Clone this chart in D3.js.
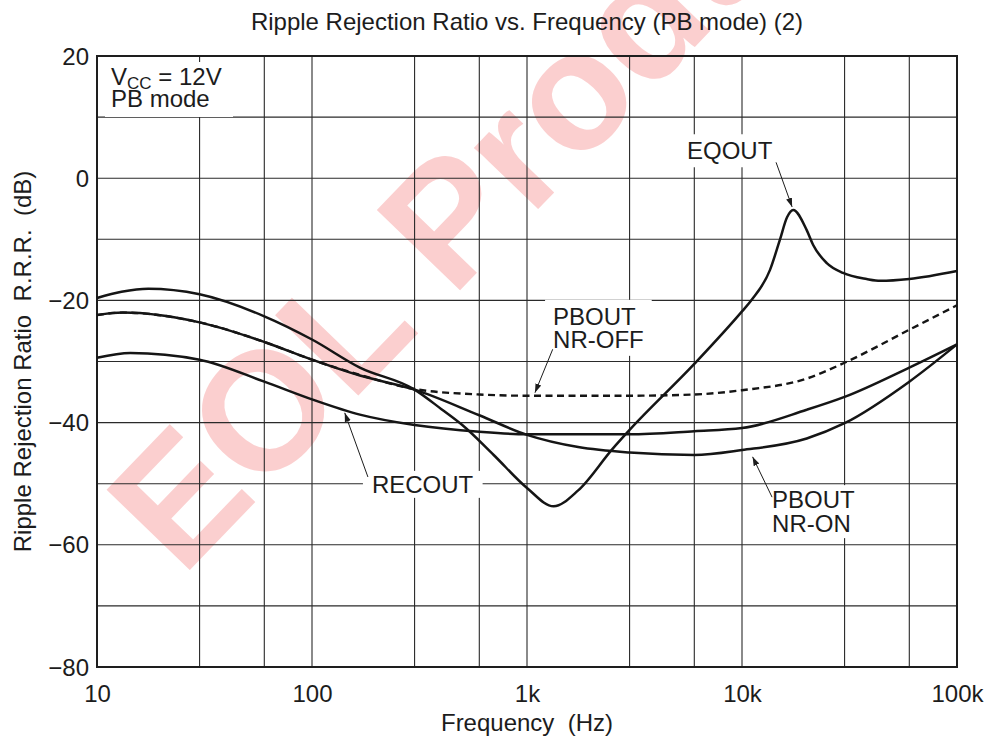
<!DOCTYPE html>
<html>
<head>
<meta charset="utf-8">
<script src="https://cdn.jsdelivr.net/npm/d3@7/dist/d3.min.js"></script>
<style>
  html, body { margin: 0; padding: 0; background: #fff; }
  svg { display: block; font-family: "Liberation Sans", Arial, Helvetica, sans-serif; }
</style>
</head>
<body>
<svg id="chart" width="990" height="742"></svg>
<script>
// ---- data ----------------------------------------------------------------
const eqoutFreq = [10, 13, 17.3, 30, 60, 100, 167, 300, 400, 500, 700, 1000, 1330, 1730, 2500, 3000, 6000, 10000, 11100, 13500, 15000, 16200, 17300, 20000, 21400, 24800, 29500, 38000, 44000, 60000, 100000];
const eqoutDb   = [-19.6, -18.6, -18.1, -19.0, -22.6, -26.4, -31.0, -34.6, -37.8, -40.4, -45.3, -50.7, -53.7, -51.1, -44.3, -41.2, -30.4, -21.8, -19.9, -15.0, -10.1, -6.4, -5.2, -8.5, -10.9, -13.9, -15.5, -16.5, -16.8, -16.5, -15.2];

const nrOnFreq  = [10, 13.2, 30, 60, 100, 167, 300, 600, 1000, 1730, 3000, 6000, 10000, 20000, 30000, 60000, 100000];
const nrOnDb    = [-22.4, -22.0, -23.6, -26.8, -29.7, -32.3, -34.6, -38.8, -42.0, -44.0, -44.9, -45.3, -44.5, -42.6, -40.1, -33.3, -27.2];

const nrOffFreq = [10, 13.2, 30, 60, 100, 167, 300, 600, 1000, 3000, 6000, 10000, 20000, 30000, 60000, 100000];
const nrOffDb   = [-22.4, -22.0, -23.6, -26.8, -29.7, -32.2, -34.5, -35.4, -35.6, -35.6, -35.4, -34.7, -32.8, -30.2, -24.8, -20.8];

const recoutFreq = [10, 14.3, 30, 60, 100, 167, 300, 600, 1000, 3000, 6000, 10000, 20000, 30000, 60000, 100000];
const recoutDb   = [-29.4, -28.6, -29.7, -33.3, -36.2, -38.7, -40.4, -41.5, -41.9, -41.9, -41.4, -40.9, -37.9, -35.8, -31.0, -27.2];

const xTickValues = [10, 100, 1000, 10000, 100000];
const xTickLabels = ["10", "100", "1k", "10k", "100k"];
const xGridValues = [30, 60, 100, 300, 600, 1000, 3000, 6000, 10000, 30000, 60000];
const yTickValues = [20, 0, -20, -40, -60, -80];
const yTickLabels = ["20", "0", "\u221220", "\u221240", "\u221260", "\u221280"];
const yGridValues = [10, 0, -10, -20, -30, -40, -50, -60, -70];

// curve labels with their leader arrows, in (Hz, dB)
const labelLines = [
  { lines: ["EQOUT"],           at: [5550, 3.1],  gap: 23, from: [14400, 2.6],  to: [17100, -4.7],  pad: [4, 3] },
  { lines: ["PBOUT", "NR-OFF"], at: [1322, -24.0], gap: 23, from: [1317, -28.0], to: [1089, -35.1], pad: [8, 3] },
  { lines: ["RECOUT"],          at: [190, -51.5], gap: 23, from: [182, -48.9],  to: [142, -38.4],  pad: [9, 0] },
  { lines: ["PBOUT", "NR-ON"],  at: [13800, -54.0], gap: 24, from: [13800, -52.2], to: [11200, -45.6], pad: [7, 1] }
];

// ---- layout ----------------------------------------------------------------
const svg = d3.select("#chart");
const plot = { left: 97, top: 56, width: 860, height: 611 };
const FONT = 24;
const INK = "#1c1c1c";

const x = d3.scaleLog().domain([10, 100000]).range([plot.left, plot.left + plot.width]);
const y = d3.scaleLinear().domain([-80, 20]).range([plot.top + plot.height, plot.top]);

// ---- watermark ----------------------------------------------------------
svg.append("text")
  .attr("transform", "translate(182,578) rotate(-46)")
  .attr("font-size", 168)
  .attr("font-weight", "bold")
  .attr("fill", "#fbcfcf")
  .text("EOL Product");

// ---- grid ---------------------------------------------------------------
const grid = svg.append("g").attr("stroke", "#2a2a2a").attr("stroke-width", 1.1);
grid.selectAll("line.v").data(xGridValues).join("line")
  .attr("x1", d => x(d)).attr("x2", d => x(d))
  .attr("y1", plot.top).attr("y2", plot.top + plot.height);
grid.selectAll("line.h").data(yGridValues).join("line")
  .attr("x1", plot.left).attr("x2", plot.left + plot.width)
  .attr("y1", d => y(d)).attr("y2", d => y(d));

// ---- condition box (white patch over grid) ------------------------------
const cond = svg.append("g");
const condRect = cond.append("rect").attr("fill", "#fff");
const condText = cond.append("text").attr("font-size", FONT).attr("fill", INK);
condText.append("tspan").attr("x", 111).attr("y", 85).text("V");
condText.append("tspan").attr("font-size", 17).attr("dy", 4).text("CC");
condText.append("tspan").attr("dy", -4).text(" = 12V");
condText.append("tspan").attr("x", 111).attr("y", 107).text("PB mode");
{
  const b = condText.node().getBBox();
  condRect.attr("x", 105).attr("y", b.y - 1).attr("width", 128).attr("height", b.height + 6);
}

// ---- axes frame ---------------------------------------------------------
svg.append("rect")
  .attr("x", plot.left).attr("y", plot.top)
  .attr("width", plot.width).attr("height", plot.height)
  .attr("fill", "none").attr("stroke", "#1e1e1e").attr("stroke-width", 2);

// ---- axes ---------------------------------------------------------------
const xAxis = d3.axisBottom(x).tickValues(xTickValues)
  .tickFormat((d, i) => xTickLabels[i]).tickSize(0);
svg.append("g").attr("transform", `translate(0,${plot.top + plot.height})`)
  .call(xAxis)
  .call(g => g.select(".domain").remove())
  .call(g => g.selectAll("text").attr("y", 35).attr("dy", null)
    .attr("font-size", FONT).attr("fill", INK)
    .attr("font-family", "Liberation Sans, Arial, sans-serif"));

const yAxis = d3.axisLeft(y).tickValues(yTickValues)
  .tickFormat((d, i) => yTickLabels[i]).tickSize(0).tickPadding(8);
svg.append("g").attr("transform", `translate(${plot.left},0)`)
  .call(yAxis)
  .call(g => g.select(".domain").remove())
  .call(g => g.selectAll("text").attr("dy", "0.34em")
    .attr("font-size", FONT).attr("fill", INK)
    .attr("font-family", "Liberation Sans, Arial, sans-serif"));

// ---- titles -------------------------------------------------------------
svg.append("text")
  .attr("x", plot.left + plot.width / 2).attr("y", 30)
  .attr("text-anchor", "middle").attr("font-size", FONT).attr("fill", INK)
  .text("Ripple Rejection Ratio vs. Frequency (PB mode) (2)");

svg.append("text")
  .attr("x", plot.left + plot.width / 2).attr("y", 731)
  .attr("text-anchor", "middle").attr("font-size", FONT).attr("fill", INK)
  .attr("xml:space", "preserve").style("white-space", "pre")
  .text("Frequency  (Hz)");

svg.append("text")
  .attr("transform", `translate(31,${plot.top + plot.height / 2}) rotate(-90)`)
  .attr("text-anchor", "middle").attr("font-size", FONT).attr("fill", INK)
  .attr("xml:space", "preserve").style("white-space", "pre")
  .text("Ripple Rejection Ratio  R.R.R.  (dB)");

// ---- label patches (drawn before curves) ------------------------------
const labelLayer = svg.append("g");
const labelGroups = labelLayer.selectAll("g").data(labelLines).join("g");
labelGroups.append("rect").attr("fill", "#fff");
const labelTexts = labelGroups.append("text")
  .attr("font-size", FONT).attr("fill", INK);
labelTexts.selectAll("tspan").data(d => d.lines.map((t, i) => ({ t, i, d }))).join("tspan")
  .attr("x", d => x(d.d.at[0]))
  .attr("y", d => y(d.d.at[1]) + d.i * d.d.gap)
  .text(d => d.t);
labelGroups.each(function (d) {
  const b = d3.select(this).select("text").node().getBBox();
  d3.select(this).select("rect")
    .attr("x", b.x - d.pad[0]).attr("y", b.y - d.pad[1])
    .attr("width", b.width + 2 * d.pad[0]).attr("height", b.height + 2 * d.pad[1]);
});
const textLayer = svg.append("g");

// ---- curves ---------------------------------------------------------------
const line = d3.line().x(d => x(d[0])).y(d => y(d[1])).curve(d3.curveMonotoneX);
const zip = (f, v) => f.map((fv, i) => [fv, v[i]]);

const curves = svg.append("g").attr("fill", "none").attr("stroke", "#151515")
  .attr("stroke-linejoin", "round").attr("stroke-linecap", "butt");

curves.append("path").attr("d", line(zip(nrOffFreq, nrOffDb)))
  .attr("stroke-width", 2.4).attr("stroke-dasharray", "7,4.5");
curves.append("path").attr("d", line(zip(nrOnFreq, nrOnDb))).attr("stroke-width", 2.5);
curves.append("path").attr("d", line(zip(recoutFreq, recoutDb))).attr("stroke-width", 2.5);
curves.append("path").attr("d", line(zip(eqoutFreq, eqoutDb))).attr("stroke-width", 2.5);

// curve label text sits above the curves
labelTexts.each(function () { textLayer.node().appendChild(this); });

// ---- leader arrows --------------------------------------------------------
const defs = svg.append("defs");
defs.append("marker").attr("id", "arrowhead")
  .attr("viewBox", "0 0 10 10").attr("refX", 10).attr("refY", 5)
  .attr("markerWidth", 9).attr("markerHeight", 9)
  .attr("markerUnits", "userSpaceOnUse").attr("orient", "auto")
  .append("path").attr("d", "M0,1.6 L10,5 L0,8.4 Z").attr("fill", INK);

svg.append("g").selectAll("line").data(labelLines).join("line")
  .attr("x1", d => x(d.from[0])).attr("y1", d => y(d.from[1]))
  .attr("x2", d => x(d.to[0])).attr("y2", d => y(d.to[1]))
  .attr("stroke", INK).attr("stroke-width", 1)
  .attr("marker-end", "url(#arrowhead)");
</script>
</body>
</html>
